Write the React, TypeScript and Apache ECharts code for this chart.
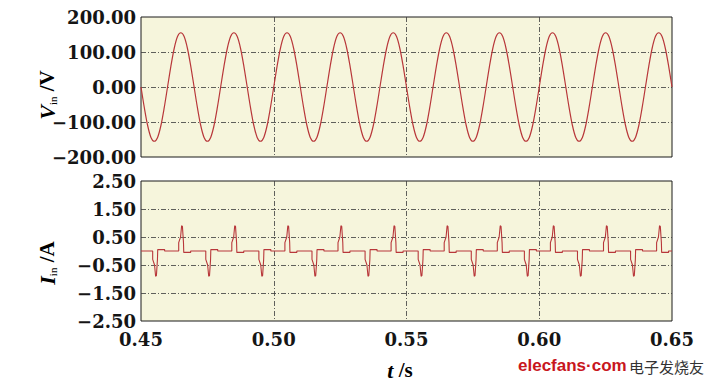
import React, { useEffect, useRef } from 'react';
import * as echarts from 'echarts';

// ---- data ----
const timeMin = 0.45;
const timeMax = 0.65;
const timeInterval = 0.05;

const voltageMin = -200;
const voltageMax = 200;
const voltageInterval = 100;

const currentMin = -2.5;
const currentMax = 2.5;
const currentInterval = 1;

// voltage samples every 1.25 ms starting at t = 0.45 s
const voltageStart = 0.45;
const voltageStep = 0.00125;
const voltageValues = [
  0, -59, -110, -144, -155, -144, -110, -59, 0, 59, 110, 144, 155, 144, 110, 59,
  0, -59, -110, -144, -155, -144, -110, -59, 0, 59, 110, 144, 155, 144, 110, 59,
  0, -59, -110, -144, -155, -144, -110, -59, 0, 59, 110, 144, 155, 144, 110, 59,
  0, -59, -110, -144, -155, -144, -110, -59, 0, 59, 110, 144, 155, 144, 110, 59,
  0, -59, -110, -144, -155, -144, -110, -59, 0, 59, 110, 144, 155, 144, 110, 59,
  0, -59, -110, -144, -155, -144, -110, -59, 0, 59, 110, 144, 155, 144, 110, 59,
  0, -59, -110, -144, -155, -144, -110, -59, 0, 59, 110, 144, 155, 144, 110, 59,
  0, -59, -110, -144, -155, -144, -110, -59, 0, 59, 110, 144, 155, 144, 110, 59,
  0, -59, -110, -144, -155, -144, -110, -59, 0, 59, 110, 144, 155, 144, 110, 59,
  0, -59, -110, -144, -155, -144, -110, -59, 0, 59, 110, 144, 155, 144, 110, 59,
  0,
];

// current pulses: start times (s) of each pulse
const negativePulseStarts = [0.4544, 0.4744, 0.4944, 0.5144, 0.5344, 0.5544, 0.5744, 0.5944, 0.6144, 0.6344];
const positivePulseStarts = [0.4642, 0.4842, 0.5042, 0.5242, 0.5442, 0.5642, 0.5842, 0.6042, 0.6242, 0.6442];
// pulse shape: time offsets from start (s) and values (A) of a positive pulse
const pulseOffsets = [0, 0, 0.0007, 0.0011, 0.0014, 0.0018, 0.0019, 0.0045, 0.0045];
const pulseValues = [0, 0.3, 0.5, 0.9, 0.88, 0.3, -0.05, -0.05, 0];

const lineColor = '#b8373a';
const gridColor = '#3a3a3a';
const bgColor = '#f6f5dc';
const labelFont = 'DejaVu Serif';
const serif = 'Liberation Serif';

function fmt(v: number) {
  return v.toFixed(2).replace('-', '\u2212');
}

export default function App() {
  const ref = useRef<HTMLDivElement>(null);

  useEffect(() => {
    if (!ref.current) return;
    const chart = echarts.init(ref.current, undefined, { renderer: 'svg' });

    const voltageData = voltageValues.map((v, i) => [voltageStart + i * voltageStep, v]);

    const pulses: { t: number; sign: number }[] = [];
    negativePulseStarts.forEach((t) => pulses.push({ t, sign: -1 }));
    positivePulseStarts.forEach((t) => pulses.push({ t, sign: 1 }));
    pulses.sort((a, b) => a.t - b.t);
    const currentData: number[][] = [[timeMin, 0]];
    pulses.forEach((p) => {
      pulseOffsets.forEach((o, k) => currentData.push([p.t + o, p.sign * pulseValues[k]]));
    });
    currentData.push([timeMax, 0]);

    const splitLine = {
      show: true,
      showMinLine: false,
      showMaxLine: false,
      lineStyle: { color: gridColor, width: 0.8, type: [5, 2, 1, 2] },
    };
    const axisLabelStyle = {
      fontFamily: labelFont,
      fontWeight: 'bold',
      fontSize: 18,
      color: '#151515',
    };

    const nameRich = {
      it: { fontFamily: serif, fontStyle: 'italic', fontWeight: 'bold', fontSize: 22, color: '#151515' },
      sub: { fontFamily: serif, fontSize: 11, color: '#151515', verticalAlign: 'bottom' },
      up: { fontFamily: serif, fontWeight: 'bold', fontSize: 21, color: '#151515' },
    };

    chart.setOption({
      animation: false,
      grid: [
        { left: 141, right: 49, top: 17, height: 140, show: true, backgroundColor: bgColor, borderColor: '#1a1a1a', borderWidth: 1 },
        { left: 141, right: 49, top: 181, height: 140, show: true, backgroundColor: bgColor, borderColor: '#1a1a1a', borderWidth: 1 },
      ],
      xAxis: [
        {
          type: 'value', gridIndex: 0, min: timeMin, max: timeMax, interval: timeInterval,
          axisLine: { show: false }, axisTick: { show: false }, axisLabel: { show: false },
          splitLine,
        },
        {
          type: 'value', gridIndex: 1, min: timeMin, max: timeMax, interval: timeInterval,
          axisLine: { show: false }, axisTick: { show: false },
          axisLabel: { ...axisLabelStyle, margin: 9, formatter: (v: number) => v.toFixed(2) },
          splitLine,
        },
      ],
      yAxis: [
        {
          type: 'value', gridIndex: 0, min: voltageMin, max: voltageMax, interval: voltageInterval,
          axisLine: { show: false }, axisTick: { show: false },
          axisLabel: { ...axisLabelStyle, margin: 5, formatter: fmt },
          splitLine,
        },
        {
          type: 'value', gridIndex: 1, min: currentMin, max: currentMax, interval: currentInterval,
          axisLine: { show: false }, axisTick: { show: false },
          axisLabel: { ...axisLabelStyle, margin: 5, formatter: fmt },
          splitLine,
        },
      ],
      graphic: [
        {
          type: 'text', x: 47, y: 95, rotation: Math.PI / 2,
          style: { text: '{it|V}{sub|in}{up| /V}', rich: nameRich, align: 'center', verticalAlign: 'middle' },
        },
        {
          type: 'text', x: 47, y: 263, rotation: Math.PI / 2,
          style: { text: '{it|I}{sub|in}{up| /A}', rich: nameRich, align: 'center', verticalAlign: 'middle' },
        },
        {
          type: 'text', x: 400, y: 370,
          style: { text: '{it|t}{up| /s}', rich: nameRich, align: 'center', verticalAlign: 'middle' },
        },
        {
          type: 'text', x: 518, y: 365,
          style: { text: 'elecfans·com', font: 'bold 17px "Liberation Sans"', fill: '#c8161d', verticalAlign: 'middle' },
        },
        {
          type: 'text', x: 629, y: 366,
          style: { text: '电子发烧友', font: '15px "Noto Sans CJK SC"', fill: '#333333', verticalAlign: 'middle' },
        },
      ],
      series: [
        {
          type: 'line', xAxisIndex: 0, yAxisIndex: 0, data: voltageData,
          showSymbol: false, smooth: 0.3,
          lineStyle: { color: lineColor, width: 1.2 },
        },
        {
          type: 'line', xAxisIndex: 1, yAxisIndex: 1, data: currentData,
          showSymbol: false,
          lineStyle: { color: lineColor, width: 1.1 },
        },
      ],
    });

    return () => chart.dispose();
  }, []);

  return (
    <div
      ref={ref}
      style={{ position: 'fixed', left: 0, top: 0, width: 721, height: 384, background: '#ffffff' }}
    />
  );
}
